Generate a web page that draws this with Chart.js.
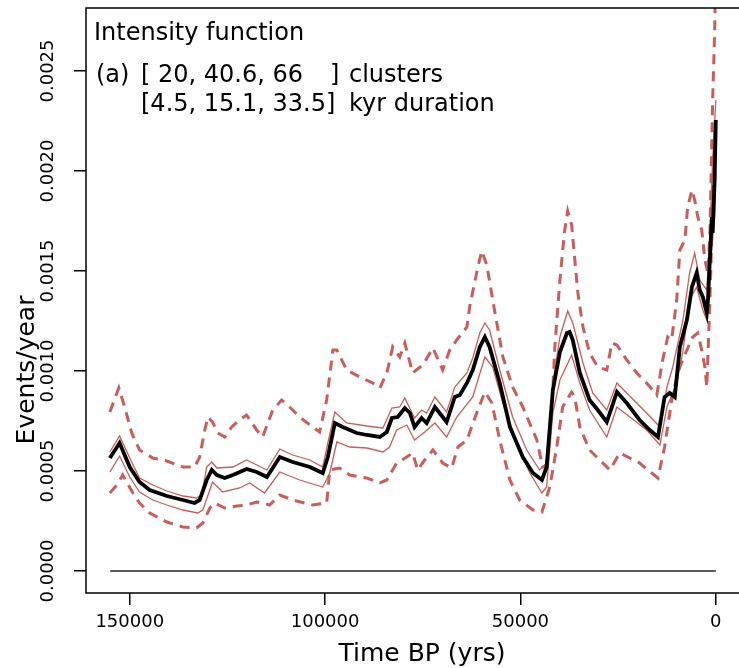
<!DOCTYPE html>
<html lang="en">
<head>
<meta charset="UTF-8" />
<title>Intensity function</title>
<script src="https://cdn.jsdelivr.net/npm/chart.js@4.4.1/dist/chart.umd.min.js"></script>
<style>
  html, body { margin: 0; padding: 0; background: #fff; overflow: hidden; }
  #wrap { width: 745px; height: 668px; }
</style>
</head>
<body>
<div id="wrap"><canvas id="c" width="745" height="668"></canvas></div>
<script>
// axis ticks
const xTicks = [150000, 100000, 50000, 0];
const yTicks = [0, 0.0005, 0.001, 0.0015, 0.002, 0.0025];

// median intensity (black)
const medYears = [155100,152600,150000,147500,144900,140500,136400,133400,132100,130300,
  129000,127700,125700,123600,120100,117500,114900,111600,108300,103900,
  100600,99300,97500,95500,91900,89300,86000,84200,82900,81400,
  79600,78300,77100,75300,74000,71900,68900,66800,65500,63700,
  62200,60400,59100,57900,55300,52700,49400,46800,44500,43300,
  41700,39900,38100,37400,36600,34800,32300,30200,27900,25300,
  22800,19500,16900,14800,13100,11800,10500,9200,7400,6100,
  4900,4100,3300,2300,2000,1000,800,300,0];
const medVals = [0.000565,0.00064,0.00052,0.000445,0.000405,0.000375,0.000355,0.00034,0.000355,0.000455,
  0.000505,0.00048,0.000465,0.00048,0.00051,0.000495,0.00047,0.00057,0.000545,0.00052,
  0.00049,0.00057,0.00074,0.00072,0.00069,0.00068,0.00067,0.000695,0.000765,0.00077,
  0.000815,0.00079,0.00072,0.000765,0.00074,0.00082,0.000745,0.00087,0.00088,0.00094,
  0.001005,0.00112,0.00117,0.00112,0.00094,0.00072,0.00057,0.00049,0.000455,0.00052,
  0.000905,0.001095,0.00119,0.001195,0.001155,0.00099,0.000855,0.000805,0.000745,0.000895,
  0.00084,0.000755,0.000705,0.00067,0.00087,0.00089,0.00087,0.00112,0.001255,0.00142,
  0.00149,0.001405,0.00137,0.00129,0.001355,0.00177,0.00169,0.001955,0.002255];

// inner band, upper (thin red)
const hiYears = [155100,152600,150000,147500,144100,140500,136400,132900,131600,130300,
  129000,127700,123600,120100,117500,114900,111600,108300,103900,100600,
  99300,97500,94500,89300,85200,82900,80900,79600,77100,75300,
  74000,71900,68900,66800,63700,62200,60400,59100,57900,55300,
  52000,48400,45100,43300,41700,39900,37900,36600,34000,31500,
  27900,25300,22800,17700,14300,12500,11000,8400,6700,5400,
  4100,2300,1500,800,0];
const hiVals = [0.000595,0.000675,0.000565,0.000465,0.00043,0.0004,0.000375,0.000365,0.00038,0.00052,
  0.000545,0.000515,0.00052,0.000555,0.00053,0.000505,0.00061,0.00058,0.000555,0.00052,
  0.00064,0.000795,0.00074,0.000725,0.000715,0.000815,0.00082,0.000865,0.000765,0.000805,
  0.00079,0.00087,0.000795,0.00092,0.00099,0.001065,0.00119,0.00124,0.001205,0.001005,
  0.00077,0.000605,0.000505,0.00054,0.00094,0.00117,0.0013,0.00124,0.00104,0.00089,
  0.000805,0.00094,0.00089,0.00079,0.00072,0.00092,0.00102,0.001255,0.00149,0.00159,
  0.001455,0.001405,0.00169,0.002055,0.002355];

// inner band, lower (thin red)
const loYears = [155100,152600,150000,147500,144100,140500,136400,132600,131300,128800,
  126200,121900,119300,115500,111600,106500,100600,98800,97000,93700,
  89300,85200,83500,81700,79100,77100,74500,71900,68900,66300,
  62200,59100,57100,54500,50900,47600,44500,43300,41700,39900,
  36900,34800,32300,27900,25300,22000,17700,14300,12500,10000,
  8400,6700,4900,3300,2300,1500,300,0];
const loVals = [0.000495,0.000575,0.00047,0.000395,0.000355,0.00033,0.000305,0.00029,0.000305,0.000445,
  0.000395,0.000415,0.00044,0.00039,0.000495,0.000455,0.00042,0.00049,0.000645,0.00062,
  0.000615,0.000595,0.00062,0.000705,0.00073,0.000655,0.000695,0.00074,0.00067,0.00077,
  0.00087,0.00107,0.00102,0.00084,0.00064,0.00049,0.00039,0.00042,0.00079,0.000955,
  0.00108,0.00094,0.000805,0.00067,0.00082,0.00077,0.000705,0.00063,0.00082,0.00094,
  0.0011,0.001355,0.00142,0.001305,0.001255,0.00152,0.00177,0.00199];

// outer band, upper (dashed red)
const outHiYears = [155100,152800,151300,149500,147500,144100,140500,136400,133400,132100,
  130800,130000,128800,127500,125700,123900,121900,120100,117500,116000,
  113400,111100,109100,106500,103200,101400,99600,98000,97000,94500,
  91100,87800,86000,84200,82700,80900,79600,77600,75000,72400,
  69900,68100,66300,63700,63000,60900,59900,58600,57100,54500,
  52000,49400,45800,44300,43300,42000,41200,39900,38700,37900,
  36900,35300,34000,32300,30200,27900,26600,25300,22800,20200,
  17700,15100,13600,12300,11300,10000,9200,7900,7200,6100,
  5400,4600,3600,2800,2000,1500,1000,800,300,0];
const outHiVals = [0.000795,0.000915,0.00082,0.00069,0.000605,0.000565,0.00055,0.00052,0.00052,0.00057,
  0.000705,0.00077,0.000745,0.00069,0.00067,0.00072,0.000755,0.00078,0.000705,0.00067,
  0.000805,0.000855,0.00082,0.00077,0.00072,0.000695,0.000855,0.001105,0.001105,0.001005,
  0.00097,0.00094,0.000915,0.00099,0.00112,0.00107,0.00114,0.00099,0.00103,0.001115,
  0.001005,0.001105,0.001155,0.00122,0.00132,0.00152,0.0016,0.00153,0.001355,0.00107,
  0.00092,0.00082,0.000655,0.00052,0.00053,0.00079,0.00112,0.001455,0.0017,0.0018,
  0.00173,0.00139,0.00122,0.00109,0.00102,0.001005,0.00114,0.00113,0.001055,0.00099,
  0.00094,0.00088,0.001055,0.00117,0.001155,0.001355,0.001605,0.001655,0.00182,0.001905,
  0.001855,0.00177,0.001705,0.001555,0.00149,0.00169,0.002155,0.002355,0.00269,0.003];

// outer band, lower (dashed red)
const outLoYears = [155100,153300,151800,149200,147500,144900,140500,136400,132900,131300,
  129500,128300,125700,122600,120100,117500,114200,111600,108300,103200,
  99600,98800,96300,93700,89300,86000,84200,81700,79100,77600,
  76300,74500,72400,69900,67600,66000,63700,61200,59100,57300,
  55300,52700,50200,46800,44500,42500,40700,39200,36900,36100,
  34800,32300,29700,27100,24600,22500,19500,17400,14800,13100,
  11000,9200,7400,5900,4600,3600,2800,2300,1500,1000,
  500,0];
const outLoVals = [0.00039,0.00043,0.00048,0.00039,0.00034,0.00029,0.000245,0.00022,0.000215,0.00024,
  0.000315,0.00034,0.000315,0.000325,0.00033,0.000345,0.00033,0.00038,0.000355,0.00033,
  0.00034,0.000505,0.000515,0.00048,0.000465,0.00044,0.000455,0.00054,0.00057,0.00059,
  0.000505,0.000555,0.000605,0.00054,0.000515,0.00062,0.000655,0.00079,0.000895,0.00084,
  0.000655,0.000455,0.000355,0.000305,0.000295,0.00042,0.00062,0.00082,0.000895,0.00087,
  0.00072,0.000605,0.000555,0.000505,0.00059,0.00057,0.00054,0.000505,0.000465,0.00062,
  0.00089,0.00102,0.001105,0.00117,0.00119,0.001105,0.00102,0.00092,0.001355,0.00169,
  0.00202,0.00222];

// zero reference line
const zeroYears = [155000, 0];
const zeroVals = [0, 0];

function pairs(xs, ys) {
  const n = Math.min(xs.length, ys.length);
  const out = [];
  for (let i = 0; i < n; i++) out.push({ x: xs[i], y: ys[i] });
  return out;
}

const RED = "#CD5C5C";
const FONT = "'DejaVu Sans', sans-serif";
Chart.defaults.font.family = FONT;
Chart.defaults.color = "#000";

// box round the plot plus the free texts
const decor = {
  id: "decor",
  afterDraw(chart) {
    const { ctx, chartArea: a } = chart;
    ctx.save();
    ctx.strokeStyle = "#000";
    ctx.lineWidth = 1.5;
    ctx.strokeRect(a.left, a.top, a.right - a.left, a.bottom - a.top);

    ctx.fillStyle = "#000";
    ctx.textBaseline = "alphabetic";
    ctx.textAlign = "left";
    ctx.font = "24px " + FONT;
    ctx.fillText("Intensity function", 94, 40);
    ctx.fillText("(a)", 96, 82);
    ctx.fillText("[ 20, 40.6, 66", 141, 82);
    ctx.fillText("]", 330, 82);
    ctx.fillText("clusters", 349, 82);
    ctx.fillText("[4.5, 15.1, 33.5]", 141, 111);
    ctx.fillText("kyr duration", 349, 111);

    ctx.font = "25px " + FONT;
    ctx.textAlign = "center";
    ctx.fillText("Time BP (yrs)", 422, 661);
    ctx.translate(34, 370);
    ctx.rotate(-Math.PI / 2);
    ctx.fillText("Events/year", 0, 0);
    ctx.restore();
  },
};

const tickGrid = {
  drawOnChartArea: false,
  drawTicks: true,
  tickLength: 12,
  color: "#000",
  lineWidth: 1.5,
};

new Chart(document.getElementById("c"), {
  type: "line",
  data: {
    datasets: [
      { data: pairs(medYears, medVals), borderColor: "#000", borderWidth: 3.8 },
      { data: pairs(hiYears, hiVals), borderColor: RED, borderWidth: 1.3 },
      { data: pairs(loYears, loVals), borderColor: RED, borderWidth: 1.3 },
      { data: pairs(outHiYears, outHiVals), borderColor: RED, borderWidth: 3, borderDash: [10, 7] },
      { data: pairs(outLoYears, outLoVals), borderColor: RED, borderWidth: 3, borderDash: [10, 7] },
      { data: pairs(zeroYears, zeroVals), borderColor: "#222", borderWidth: 1.5 },
    ],
  },
  options: {
    responsive: false,
    devicePixelRatio: 1,
    animation: false,
    events: [],
    elements: { point: { radius: 0 }, line: { tension: 0, fill: false } },
    layout: { padding: { top: 8, right: 5, left: 0, bottom: 0 } },
    plugins: { legend: { display: false }, tooltip: { enabled: false } },
    scales: {
      x: {
        type: "linear",
        reverse: true,
        min: -6200,
        max: 161200,
        afterBuildTicks: (s) => { s.ticks = xTicks.map((v) => ({ value: v })); },
        afterFit: (s) => { s.height = 75; s.paddingLeft = 0; s.paddingRight = 0; },
        grid: tickGrid,
        border: { display: false },
        ticks: {
          callback: (v) => String(v),
          autoSkip: false,
          maxRotation: 0,
          padding: 7,
          font: { size: 18 },
        },
      },
      y: {
        min: -0.00011,
        max: 0.002815,
        afterBuildTicks: (s) => { s.ticks = yTicks.map((v) => ({ value: v })); },
        afterFit: (s) => { s.width = 86; s.paddingTop = 0; s.paddingBottom = 0; },
        grid: tickGrid,
        border: { display: false },
        ticks: {
          callback: (v) => v.toFixed(4),
          autoSkip: false,
          minRotation: 90,
          maxRotation: 90,
          crossAlign: "center",
          padding: -6,
          font: { size: 18 },
        },
      },
    },
  },
  plugins: [decor],
});
</script>
</body>
</html>
